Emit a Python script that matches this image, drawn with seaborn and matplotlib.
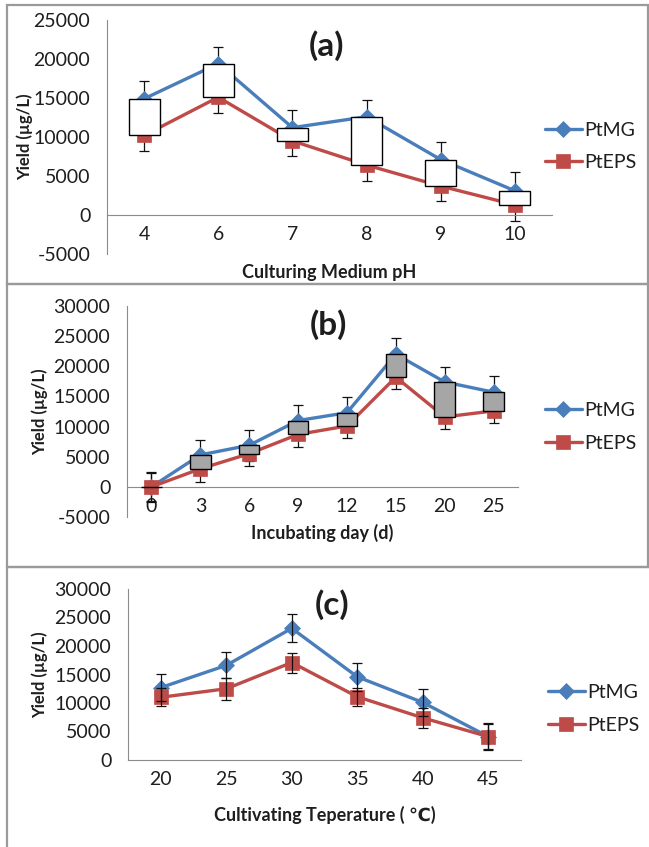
import numpy as np
import pandas as pd
import matplotlib.pyplot as plt
import seaborn as sns
from matplotlib.patches import Rectangle

# ---- data (yield in ug/L) ----
# (a) culturing medium pH
ph_labels = ['4', '6', '7', '8', '9', '10']
ph_mg = [14900, 19400, 11200, 12600, 7100, 3100]
ph_eps = [10200, 15100, 9500, 6400, 3700, 1300]
ph_mg_err = [2300, 2100, 2200, 2200, 2300, 2400]
ph_eps_err = [2000, 2000, 2000, 2050, 1950, 2050]

# (b) incubating day
day_labels = ['0', '3', '6', '9', '12', '15', '20', '25']
day_mg = [0, 5300, 6900, 11000, 12300, 22000, 17400, 15700]
day_eps = [0, 3000, 5500, 8700, 10100, 18200, 11600, 12600]
day_mg_err = [2500, 2550, 2600, 2600, 2550, 2650, 2450, 2700]
day_eps_err = [2300, 2200, 2000, 2050, 2050, 2000, 2000, 1950]

# (c) cultivating temperature
temp_labels = ['20', '25', '30', '35', '40', '45']
temp_mg = [12700, 16600, 23100, 14600, 10100, 4100]
temp_eps = [11000, 12500, 17100, 11100, 7400, 4100]
temp_mg_err = [2400, 2300, 2450, 2500, 2300, 2250]
temp_eps_err = [1600, 1900, 1750, 1600, 1700, 2400]

BLUE = '#4A7EBB'
RED = '#BE4B48'
GRID = '#8c8c8c'
TXT = '#1e1e1e'

W, H = 649, 847

sns.set_style('white')
plt.rcParams['font.family'] = ['Lato', 'DejaVu Sans']
plt.rcParams['axes.unicode_minus'] = False


def px_rect(l, t, r, b):
    return [l / W, 1 - b / H, (r - l) / W, (b - t) / H]


def draw_panel(fig, rect, labels, mg, eps, mg_err, eps_err, ylim, xlabel,
               xlab_y, ylab_x, title, title_xy, leg_xy, box_color=None):
    ax = fig.add_axes(rect)
    pos = np.arange(len(labels))
    df = pd.DataFrame({'pos': pos, 'PtMG': mg, 'PtEPS': eps})

    # error bars (behind the up/down boxes)
    ez = 6 if box_color is None else 2
    ax.errorbar(pos, mg, yerr=mg_err, fmt='none', ecolor='#111111',
                elinewidth=0.9, capsize=3.5, capthick=0.9, zorder=ez)
    ax.errorbar(pos, eps, yerr=eps_err, fmt='none', ecolor='#111111',
                elinewidth=0.9, capsize=3.5, capthick=0.9, zorder=ez)

    sns.lineplot(data=df, x='pos', y='PtMG', ax=ax, color=BLUE, lw=2.4,
                 marker='D', markersize=8, markeredgecolor=BLUE,
                 markeredgewidth=0.5, label='PtMG', zorder=3)
    sns.lineplot(data=df, x='pos', y='PtEPS', ax=ax, color=RED, lw=2.4,
                 marker='s', markersize=10, markeredgecolor=RED,
                 markeredgewidth=0.5, label='PtEPS', zorder=3)

    # Excel style up/down bars between the two series
    if box_color is not None:
        lo = np.minimum(mg, eps)
        hi = np.maximum(mg, eps)
        ax.bar(pos, hi - lo, bottom=lo, width=0.42, color=box_color,
               edgecolor='black', linewidth=1.0, zorder=4)

    ax.set_xlim(-0.5, len(labels) - 0.5)
    ax.set_ylim(*ylim)
    ax.set_yticks(np.arange(ylim[0], ylim[1] + 1, 5000))
    ax.set_xticks(pos)
    ax.set_xticklabels(labels)
    ax.set_xticks(np.arange(len(labels) + 1) - 0.5, minor=True)
    ax.tick_params(axis='x', which='major', length=0, pad=8,
                   labelsize=14, labelcolor=TXT)
    ax.tick_params(axis='x', which='minor', length=5, width=1,
                   color=GRID, direction='out')
    ax.tick_params(axis='y', length=5, width=1, color=GRID,
                   direction='out', pad=7, labelsize=14, labelcolor=TXT)

    for s in ['top', 'right']:
        ax.spines[s].set_visible(False)
    ax.spines['bottom'].set_position(('data', 0))
    ax.spines['bottom'].set_color(GRID)
    ax.spines['left'].set_color(GRID)
    ax.patch.set_alpha(0)

    ax.set_xlabel(xlabel, fontsize=13, fontweight='bold', color=TXT)
    ax.xaxis.label.set_va('center')
    ax.xaxis.set_label_coords(0.5, xlab_y)
    ax.set_ylabel('Yield (µg/L)', fontsize=12, fontweight='bold', color=TXT)
    ax.yaxis.label.set_va('center')
    ax.yaxis.set_label_coords(ylab_x, 0.5)

    fig.text(title_xy[0] / W, 1 - title_xy[1] / H, title, fontsize=24,
             fontweight='bold', ha='center', va='center', color=TXT)

    handles, labs = ax.get_legend_handles_labels()
    ax.legend(handles, labs, loc='center left',
              bbox_to_anchor=(leg_xy[0] / W, 1 - leg_xy[1] / H),
              bbox_transform=fig.transFigure, frameon=False, fontsize=14,
              handlelength=1.9, handletextpad=0.1, labelspacing=0.8,
              borderpad=0, borderaxespad=0, labelcolor=TXT)
    return ax


fig = plt.figure(figsize=(W / 100, H / 100), dpi=100)

# panel frames
for (t, b) in [(5, 284), (284, 567)]:
    fig.add_artist(Rectangle((7 / W, 1 - b / H), 641 / W, (b - t) / H,
                             transform=fig.transFigure, fill=False,
                             edgecolor='#9a9a9a', lw=1.6))
fig.add_artist(plt.Line2D([7 / W, 7 / W], [0, 1 - 567 / H],
                          transform=fig.transFigure, color='#9a9a9a', lw=1.6))
fig.add_artist(plt.Line2D([7 / W, 649 / W], [1 - 567 / H, 1 - 567 / H],
                          transform=fig.transFigure, color='#9a9a9a', lw=1.6))

draw_panel(fig, px_rect(107, 20, 552, 254), ph_labels, ph_mg, ph_eps,
           ph_mg_err, ph_eps_err, (-5000, 25000), 'Culturing Medium pH',
           -0.077, -0.184, '(a)', (327, 46), (545, 146.5), box_color='white')

draw_panel(fig, px_rect(127, 306, 518, 517), day_labels, day_mg, day_eps,
           day_mg_err, day_eps_err, (-5000, 30000), 'Incubating day (d)',
           -0.074, -0.2225, '(b)', (328, 325), (545, 427), box_color='#a6a6a6')

draw_panel(fig, px_rect(128, 589, 521, 760), temp_labels, temp_mg, temp_eps,
           temp_mg_err, temp_eps_err, (0, 30000), 'Cultivating Teperature ( \u2103)',
           -0.32, -0.224, '(c)', (332, 605), (548, 709), box_color=None)

fig.savefig('out.png', dpi=100)
